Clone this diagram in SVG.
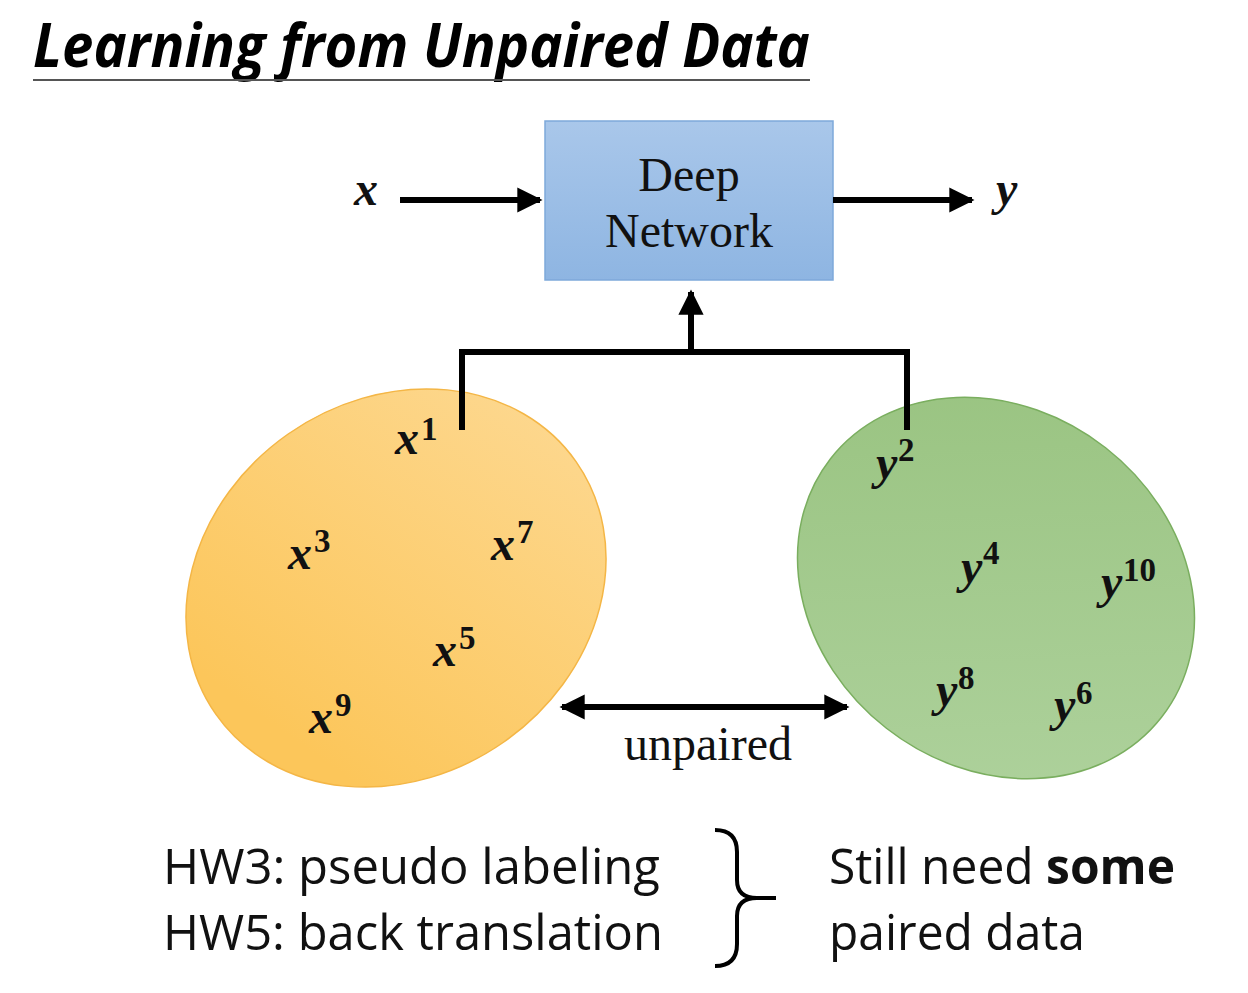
<svg xmlns="http://www.w3.org/2000/svg" width="1248" height="993" viewBox="0 0 1248 993">
<defs>
<linearGradient id="blue" x1="0" y1="0" x2="0" y2="1">
<stop offset="0" stop-color="#a9c7ea"/><stop offset="1" stop-color="#8eb5e2"/>
</linearGradient>
<linearGradient id="orange" x1="0" y1="0.3" x2="1" y2="0">
<stop offset="0" stop-color="#fcc65a"/><stop offset="1" stop-color="#fdd993"/>
</linearGradient>
<linearGradient id="green" x1="0" y1="0" x2="1" y2="1">
<stop offset="0" stop-color="#97c27e"/><stop offset="1" stop-color="#b0d39f"/>
</linearGradient>
<marker id="ah" viewBox="0 0 10 10" refX="9" refY="5" markerWidth="4.2" markerHeight="4.2" orient="auto-start-reverse" markerUnits="strokeWidth">
<path d="M0,0 L10,5 L0,10 Z" fill="#000"/>
</marker>
<style>
.ln{stroke:#000;stroke-width:6;fill:none}
.math{font-family:"Liberation Serif",serif;font-style:italic;font-weight:bold;font-size:48px;fill:#111}
.sup{font-family:"Liberation Serif",serif;font-weight:bold;font-size:33px;fill:#111}
.tnr{font-family:"Liberation Serif",serif;font-size:48px;fill:#111}
.body{font-family:"Open Sans","Liberation Sans",sans-serif;font-size:50px;fill:#111}
</style>
</defs>
<g id="title">
<text x="33" y="67" font-family="'Open Sans','Liberation Sans',sans-serif" font-weight="bold" font-style="italic" font-size="60" textLength="777" lengthAdjust="spacingAndGlyphs" fill="#000">Learning from Unpaired Data</text>
<line x1="33" y1="80" x2="810" y2="80" stroke="#555" stroke-width="2"/>
</g>
<g id="set-x">
<ellipse cx="396" cy="588" rx="220" ry="188" transform="rotate(-35 396 588)" fill="url(#orange)" stroke="#f4b646" stroke-width="1.5"/>
<text class="math" x="395" y="454">x</text><text class="sup" x="421" y="440">1</text>
<text class="math" x="288" y="569">x</text><text class="sup" x="314" y="552">3</text>
<text class="math" x="491" y="560">x</text><text class="sup" x="517" y="543">7</text>
<text class="math" x="433" y="666">x</text><text class="sup" x="459" y="649">5</text>
<text class="math" x="309" y="733">x</text><text class="sup" x="335" y="716">9</text>
</g>
<g id="set-y">
<ellipse cx="996" cy="588" rx="210" ry="178" transform="rotate(38 996 588)" fill="url(#green)" stroke="#7aae5f" stroke-width="1.5"/>
<text class="math" x="876" y="479">y</text><text class="sup" x="898" y="461">2</text>
<text class="math" x="961" y="583">y</text><text class="sup" x="983" y="564">4</text>
<text class="math" x="1101" y="598">y</text><text class="sup" x="1123" y="581">10</text>
<text class="math" x="936" y="706">y</text><text class="sup" x="958" y="689">8</text>
<text class="math" x="1054" y="721">y</text><text class="sup" x="1076" y="704">6</text>
</g>
<g id="deep-network">
<rect x="545" y="121" width="288" height="159" fill="url(#blue)" stroke="#7ea9da" stroke-width="1.5"/>
<text class="tnr" x="689" y="191" text-anchor="middle">Deep</text>
<text class="tnr" x="689" y="247" text-anchor="middle">Network</text>
</g>
<g id="io-labels">
<text class="math" x="354" y="205">x</text>
<text class="math" x="996" y="205">y</text>
</g>
<g id="connectors">
<line class="ln" x1="400" y1="200" x2="540" y2="200" marker-end="url(#ah)"/>
<line class="ln" x1="833" y1="200" x2="972" y2="200" marker-end="url(#ah)"/>
<polyline class="ln" points="462,430 462,352 907,352 907,430"/>
<line class="ln" x1="691" y1="352" x2="691" y2="292" marker-end="url(#ah)"/>
<line class="ln" x1="562" y1="707" x2="847" y2="707" marker-start="url(#ah)" marker-end="url(#ah)"/>
</g>
<g id="unpaired-label">
<text class="tnr" x="708" y="760" text-anchor="middle" font-size="46">unpaired</text>
</g>
<g id="notes">
<text class="body" x="163" y="884" textLength="497" lengthAdjust="spacingAndGlyphs">HW3: pseudo labeling</text>
<text class="body" x="163" y="950" textLength="500" lengthAdjust="spacingAndGlyphs">HW5: back translation</text>
<path d="M715,830 Q737,830 737,852 L737,880 Q737,898 757,898 L776,898 M757,898 Q737,898 737,916 L737,944 Q737,966 715,966" fill="none" stroke="#000" stroke-width="4"/>
<text class="body" x="829" y="884" textLength="346" lengthAdjust="spacingAndGlyphs">Still need <tspan font-weight="bold">some</tspan></text>
<text class="body" x="829" y="950" textLength="256" lengthAdjust="spacingAndGlyphs">paired data</text>
</g>
</svg>
